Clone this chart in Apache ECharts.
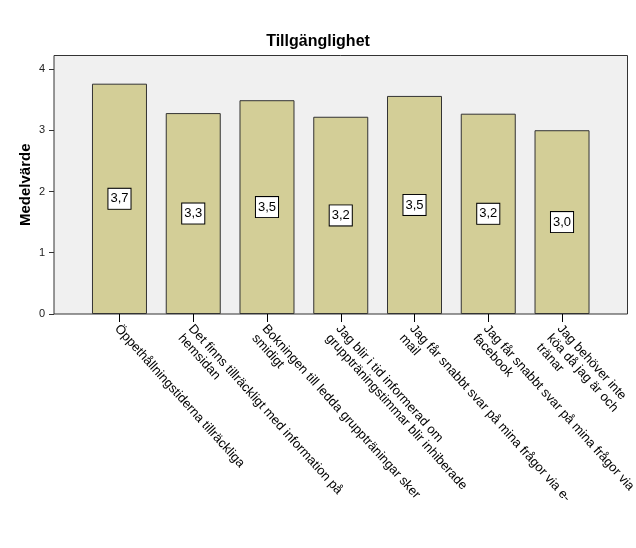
<!DOCTYPE html>
<html>
<head>
<meta charset="utf-8">
<script src="https://cdn.jsdelivr.net/npm/echarts@6/dist/echarts.min.js"></script>
<style>
  html, body { margin: 0; padding: 0; background: #fff; }
  #chart { width: 636px; height: 548px; }
</style>
</head>
<body>
<div id="chart"></div>
<script>
// kategorier (som de bryts på axeln)
var categories = [
  'Öppethållningstiderna tillräckliga',
  'Det finns tillräckligt med information på\nhemsidan',
  'Bokningen till ledda gruppträningar sker\nsmidigt',
  'Jag blir i tid informerad om\ngruppträningstimmar blir inhiberade',
  'Jag får snabbt svar på mina frågor via e-\nmail',
  'Jag får snabbt svar på mina frågor via\nfacebook',
  'Jag behöver inte\nköa då jag är och\ntränar'
]
// medelvärden
var values = [3.76, 3.28, 3.49, 3.22, 3.56, 3.27, 3.0]
// etiketter på staplarna
var valueLabels = ['3,7', '3,3', '3,5', '3,2', '3,5', '3,2', '3,0']
// y-axelns skalsteg
var yTicks = [0, 1, 2, 3, 4]
var yMax = 4.22

var chart = echarts.init(document.getElementById('chart'))
var font = 'Liberation Sans, Arial, sans-serif'

var option = {
  animation: false,
  textStyle: { fontFamily: font },
  title: {
    text: 'Tillgänglighet',
    left: 'center',
    top: 29,
    textStyle: { fontSize: 16, fontWeight: 'bold', color: '#000', fontFamily: font }
  },
  grid: [
    // ram + bakgrund
    {
      left: 54, right: 8.5, top: 55.5, bottom: 234,
      outerBoundsMode: 'none',
      show: true,
      backgroundColor: '#f0f0f0',
      borderColor: '#333',
      borderWidth: 1
    },
    // staplar
    { left: 82.6, right: 37.1, top: 55.5, bottom: 234, outerBoundsMode: 'none' }
  ],
  xAxis: [
    { gridIndex: 0, type: 'value', show: false, min: 0, max: 1 },
    {
      gridIndex: 1,
      type: 'category',
      data: categories,
      axisLine: { show: false },
      axisTick: { show: true, length: 8, alignWithLabel: true, lineStyle: { color: '#000' } },
      axisLabel: {
        interval: 0,
        rotate: -48,
        margin: 5,
        verticalAlign: 'top',
        align: 'left',
        padding: [0, 0, 0, 4],
        fontSize: 13,
        lineHeight: 14,
        color: '#000',
        fontFamily: font
      }
    }
  ],
  yAxis: [
    {
      gridIndex: 0,
      type: 'value',
      min: 0,
      max: yMax,
      name: 'Medelvärde',
      nameLocation: 'middle',
      nameGap: 21,
      nameMoveOverlap: false,
      nameTextStyle: { fontSize: 15, fontWeight: 'bold', color: '#000', fontFamily: font },
      axisLine: { show: false },
      splitLine: { show: false },
      axisTick: {
        show: true, length: 5, customValues: yTicks,
        lineStyle: { color: '#333' }
      },
      axisLabel: {
        customValues: yTicks,
        margin: 9,
        fontSize: 11,
        color: '#222',
        fontFamily: font
      }
    },
    { gridIndex: 1, type: 'value', min: 0, max: yMax, show: false }
  ],
  series: [
    {
      type: 'bar',
      xAxisIndex: 1,
      yAxisIndex: 1,
      barWidth: 55,
      data: values,
      itemStyle: {
        color: '#d3ce97',
        borderColor: '#333',
        borderWidth: 1
      },
      label: {
        show: true,
        position: 'inside',
        formatter: function (p) {
          return valueLabels[p.dataIndex]
        },
        fontSize: 13,
        color: '#000',
        fontFamily: font,
        backgroundColor: '#fff',
        borderColor: '#000',
        borderWidth: 1,
        padding: [4, 2, 3, 2]
      }
    }
  ]
}

chart.setOption(option)
</script>
</body>
</html>
